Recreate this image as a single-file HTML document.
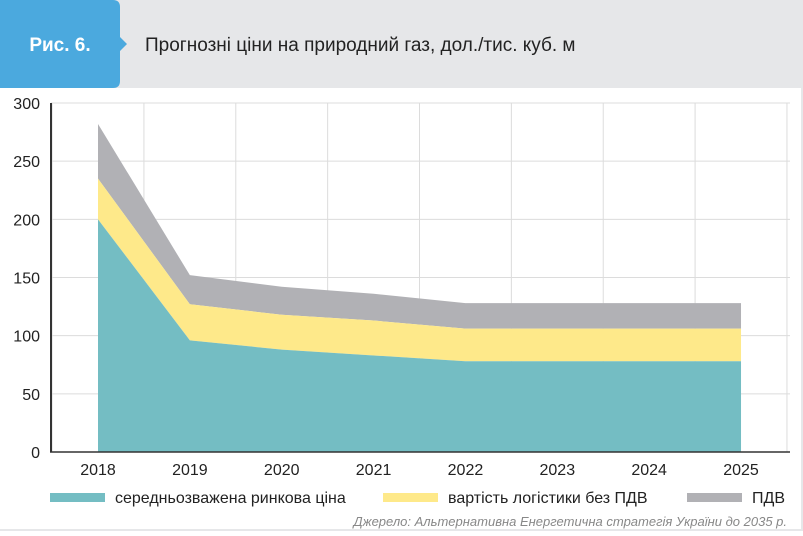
<!DOCTYPE html>
<html><head><meta charset="utf-8"><style>
body{margin:0;width:803px;height:531px;overflow:hidden;background:#fff;font-family:"Liberation Sans",sans-serif;}
</style></head><body>
<svg width="803" height="531">
<rect x="0" y="0" width="803" height="88" fill="#e6e7e9"/>
<path d="M0,0 H113 Q120,0 120,7 V37 L127,44 L120,51 V81 Q120,88 113,88 H0 Z" fill="#4ba9de"/>
<text x="60" y="51" text-anchor="middle" fill="#fff" font-size="19" font-weight="bold">Рис. 6.</text>
<text x="145" y="51" fill="#222" font-size="19">Прогнозні ціни на природний газ, дол./тис. куб. м</text>
<rect x="801" y="88" width="2" height="443" fill="#e6e7e9"/>
<rect x="0" y="529" width="803" height="2" fill="#e6e7e9"/>
<g id="grid"></g><g id="areas"></g><g id="axes"></g>
<rect x="50" y="493" width="55" height="9" fill="#74bdc3"/>
<text x="115" y="503" font-size="16" fill="#222">середньозважена ринкова ціна</text>
<rect x="383" y="493" width="55" height="9" fill="#fee98a"/>
<text x="448" y="503" font-size="16" fill="#222">вартість логістики без ПДВ</text>
<rect x="687" y="493" width="55" height="9" fill="#b1b1b5"/>
<text x="752" y="503" font-size="16" fill="#222">ПДВ</text>
<text x="787" y="526" text-anchor="end" font-size="13" font-style="italic" fill="#888">Джерело: Альтернативна Енергетична стратегія України до 2035 р.</text>
</svg>
<script>
const years=["2018","2019","2020","2021","2022","2023","2024","2025"];
const market=[200,96,88,83,78,78,78,78];
const logistics=[35,31,30,30,28,28,28,28];
const vat=[47,25,24,23,22,22,22,22];
const yTicks=[0,50,100,150,200,250,300];
const NS="http://www.w3.org/2000/svg";
const x=i=>98+i*91.86, y=v=>452-v*349/300;
function mk(t,a,p){const e=document.createElementNS(NS,t);for(const k in a)e.setAttribute(k,a[k]);p.appendChild(e);return e;}
const G=document.getElementById('grid'),A=document.getElementById('areas'),X=document.getElementById('axes');
yTicks.forEach(v=>{if(v>0){const l=mk('line',{x1:51,x2:790,y1:y(v),y2:y(v),stroke:'#dcdcdc'},G);

}
const t=mk('text',{x:40,y:y(v)+6,'text-anchor':'end','font-size':16,fill:'#222'},X);t.textContent=v;

});
for(let i=0;i<=years.length;i++){const gx=x(i)-45.93;if(gx>52){const l=mk('line',{x1:gx,x2:gx,y1:y(300),y2:452,stroke:'#dcdcdc'},G);

}}
const s1=market,s2=market.map((v,i)=>v+logistics[i]),s3=s2.map((v,i)=>v+vat[i]);
function area(top,bot,col,name){let d='M'+top.map((v,i)=>x(i)+','+y(v)).join(' L');
for(let i=bot.length-1;i>=0;i--)d+=' L'+x(i)+','+y(bot[i]);
const p=mk('path',{d:d+'Z',fill:col},A);

}
const zero=years.map(()=>0);
area(s3,s2,'#b1b1b5','area-vat');area(s2,s1,'#fee98a','area-logistics');area(s1,zero,'#74bdc3','area-market');
mk('line',{x1:51,x2:51,y1:y(300),y2:452,stroke:'#333','stroke-width':2},X);
mk('line',{x1:50,x2:790,y1:452,y2:452,stroke:'#333','stroke-width':1.5},X);
years.forEach((yr,i)=>{const t=mk('text',{x:x(i),y:475,'text-anchor':'middle','font-size':16,fill:'#222'},X);t.textContent=yr;

});
</script>
</body></html>
